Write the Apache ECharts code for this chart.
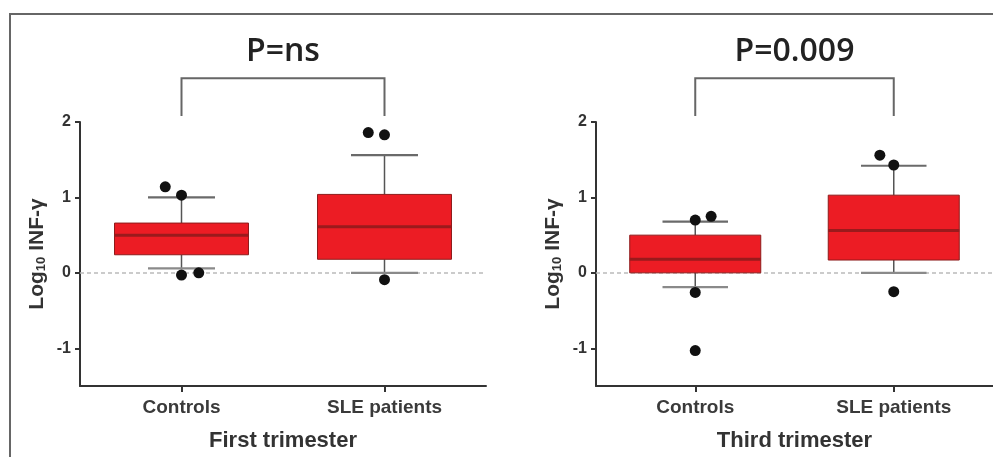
<!DOCTYPE html>
<html>
<head>
<meta charset="utf-8">
<script src="https://cdn.jsdelivr.net/npm/echarts@6/dist/echarts.min.js"></script>
<style>html,body{margin:0;padding:0;background:#fff}#c{width:993px;height:457px}</style>
</head>
<body>
<div id="c"></div>
<script>
// ---------- data ----------
const categories = ['Controls', 'SLE patients'];
const panelTitles = ['First trimester', 'Third trimester'];
const pLabels = ['P=ns', 'P=0.009'];
const yTicks = [-1, 0, 1, 2];
// box values: [lower whisker, Q1, median, Q3, upper whisker]
const firstControlsBox = [0.06, 0.24, 0.50, 0.66, 1.00];
const firstSleBox      = [0.00, 0.18, 0.61, 1.04, 1.56];
const thirdControlsBox = [-0.19, 0.00, 0.18, 0.50, 0.68];
const thirdSleBox      = [0.00, 0.17, 0.56, 1.03, 1.42];
// outlier values
const firstControlsOut = [1.14, 1.03, -0.03, 0.00];
const firstSleOut      = [1.86, 1.83, -0.09];
const thirdControlsOut = [0.70, 0.75, -0.26, -1.03];
const thirdSleOut      = [1.56, 1.43, -0.25];

// ---------- layout / style ----------
const jitter = {
  firstControls: [-0.08, 0, 0, 0.085],
  firstSle: [-0.08, 0, 0],
  thirdControls: [0, 0.08, 0, 0],
  thirdSle: [-0.07, 0, 0]
};
const BRACKET_LOW = 2.08, BRACKET_HIGH = 2.58;
const FONT = 'Liberation Sans, Arial, sans-serif';

function renderBox(params, api) {
  const idx = api.value(0);
  const lo = api.coord([idx, api.value(1)]);
  const q1 = api.coord([idx, api.value(2)]);
  const md = api.coord([idx, api.value(3)]);
  const q3 = api.coord([idx, api.value(4)]);
  const hi = api.coord([idx, api.value(5)]);
  const band = api.size([1, 0])[0];
  const bw = band * 0.66, cw = bw * 0.5;
  const x = lo[0];
  const wStyle = {stroke: '#555', lineWidth: 1.5};
  const cStyle = {stroke: '#6a6a6a', lineWidth: 2.2};
  return {type: 'group', children: [
    {type: 'line', shape: {x1: x, y1: hi[1], x2: x, y2: q3[1]}, style: wStyle},
    {type: 'line', shape: {x1: x, y1: q1[1], x2: x, y2: lo[1]}, style: wStyle},
    {type: 'line', shape: {x1: x - cw / 2, y1: hi[1], x2: x + cw / 2, y2: hi[1]}, style: cStyle},
    {type: 'line', shape: {x1: x - cw / 2, y1: lo[1], x2: x + cw / 2, y2: lo[1]}, style: {stroke: '#8a8a8a', lineWidth: 2.2}},
    {type: 'rect', shape: {x: x - bw / 2, y: q3[1], width: bw, height: q1[1] - q3[1]},
      style: {fill: '#ec1c24', stroke: '#8e1b1b', lineWidth: 1}},
    {type: 'line', shape: {x1: x - bw / 2, y1: md[1], x2: x + bw / 2, y2: md[1]}, style: {stroke: '#9a1a1c', lineWidth: 3}}
  ]};
}

function renderOutlier(params, api) {
  const p = api.coord([api.value(0), api.value(1)]);
  const band = api.size([1, 0])[0];
  const x = p[0] + api.value(2) * band;
  return {type: 'circle', shape: {cx: x, cy: p[1], r: 5.5}, style: {fill: '#111'}};
}

function makeBracket(label) {
  return function (params, api) {
    const a = api.coord([0, BRACKET_HIGH]);
    const b = api.coord([1, BRACKET_HIGH]);
    const aL = api.coord([0, BRACKET_LOW]);
    const bL = api.coord([1, BRACKET_LOW]);
    return {type: 'group', children: [
      {type: 'polyline', shape: {points: [[aL[0], aL[1]], [a[0], a[1]], [b[0], b[1]], [bL[0], bL[1]]]},
        style: {stroke: '#666', lineWidth: 2, fill: 'none'}},
      {type: 'text', style: {text: label, x: (a[0] + b[0]) / 2, y: a[1] - 26, align: 'center', verticalAlign: 'middle',
        fontSize: 32, fontWeight: 600, fontFamily: 'Open Sans, sans-serif', fill: '#222'}}
    ]};
  };
}

const boxes = [[firstControlsBox, firstSleBox], [thirdControlsBox, thirdSleBox]];
const outs = [[firstControlsOut, firstSleOut], [thirdControlsOut, thirdSleOut]];
const jit = [[jitter.firstControls, jitter.firstSle], [jitter.thirdControls, jitter.thirdSle]];

const grids = [
  {left: 80, top: 122, right: 507, bottom: 67},
  {left: 596, top: 122, right: -4, bottom: 67}
];

const xAxes = [], yAxes = [], series = [];
for (let i = 0; i < 2; i++) {
  xAxes.push({
    type: 'category', gridIndex: i, data: categories,
    axisLine: {show: true, onZero: false, lineStyle: {color: '#333', width: 2}},
    axisTick: {show: true, inside: false, alignWithLabel: true, length: 6, lineStyle: {color: '#333', width: 2}},
    axisLabel: {margin: 12, fontSize: 19, fontWeight: 'bold', color: '#3a3a3a', fontFamily: FONT},
    name: panelTitles[i], nameLocation: 'middle', nameGap: 44,
    nameTextStyle: {fontSize: 22, fontWeight: 'bold', color: '#333', fontFamily: FONT}
  });
  yAxes.push({
    type: 'value', gridIndex: i, min: -1.5, max: 2,
    axisLine: {show: true, onZero: false, lineStyle: {color: '#333', width: 2}},
    axisTick: {show: true, inside: false, length: 5, customValues: yTicks, lineStyle: {color: '#333', width: 2}},
    axisLabel: {customValues: yTicks, margin: 9, fontSize: 16, fontWeight: 'bold', color: '#333', fontFamily: FONT},
    splitLine: {show: false},
    name: '{a|Log}{b|10}{a| INF-γ}', nameLocation: 'middle', nameGap: 32,
    nameTextStyle: {color: '#333', rich: {
      a: {fontSize: 21, fontWeight: 'bold', color: '#333', fontFamily: FONT, lineHeight: 22},
      b: {fontSize: 13, fontWeight: 'bold', color: '#333', fontFamily: FONT, verticalAlign: 'bottom', lineHeight: 12}
    }}
  });
  series.push({
    type: 'custom', xAxisIndex: i, yAxisIndex: i, renderItem: renderBox, z: 2,
    encode: {x: 0, y: [1, 2, 3, 4, 5]},
    data: boxes[i].map((b, k) => [k].concat(b)),
    markLine: {silent: true, symbol: 'none', label: {show: false}, z: 1,
      lineStyle: {type: [4, 3], color: '#bbb', width: 1.5}, data: [{yAxis: 0}]}
  });
  const od = [];
  outs[i].forEach((arr, k) => arr.forEach((v, j) => od.push([k, v, jit[i][k][j]])));
  series.push({
    type: 'custom', xAxisIndex: i, yAxisIndex: i, renderItem: renderOutlier, z: 3,
    encode: {x: 0, y: 1}, data: od
  });
  series.push({
    type: 'custom', xAxisIndex: i, yAxisIndex: i, renderItem: makeBracket(pLabels[i]), z: 3, clip: false,
    encode: {x: 0}, data: [[0, 1]]
  });
}

const chart = echarts.init(document.getElementById('c'), null, {renderer: 'canvas'});
chart.setOption({
  animation: false,
  backgroundColor: '#fff',
  grid: grids,
  xAxis: xAxes,
  yAxis: yAxes,
  series: series,
  graphic: [{type: 'rect', shape: {x: 10, y: 14, width: 1000, height: 460},
    style: {fill: 'none', stroke: '#666', lineWidth: 2}, silent: true}]
});
</script>
</body>
</html>
